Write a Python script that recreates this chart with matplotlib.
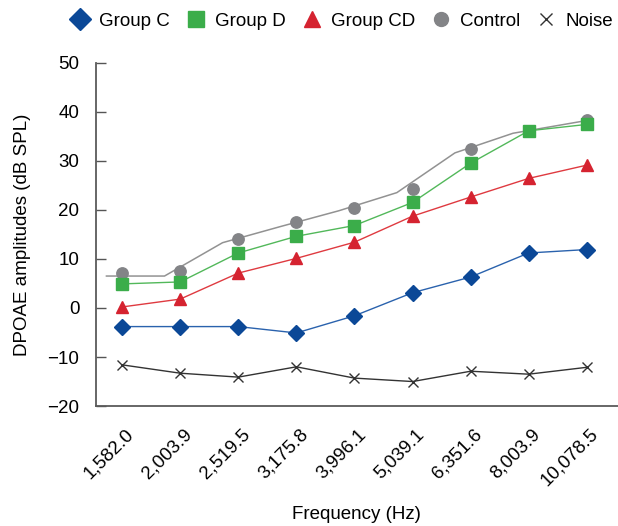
import matplotlib
matplotlib.use("Agg")
import matplotlib.pyplot as plt
import matplotlib.transforms as mtransforms
from matplotlib.lines import Line2D

# -------- DATA --------
freqs = ["1,582.0", "2,003.9", "2,519.5", "3,175.8", "3,996.1",
         "5,039.1", "6,351.6", "8,003.9", "10,078.5"]

group_c = [-3.8, -3.8, -3.8, -5.1, -1.6, 3.1, 6.3, 11.2, 11.9]
group_d = [4.9, 5.3, 11.2, 14.6, 16.8, 21.5, 29.5, 36.1, 37.4]
group_cd = [0.2, 1.8, 7.1, 10.1, 13.4, 18.7, 22.6, 26.4, 29.1]
control = [7.1, 7.6, 14.0, 17.6, 20.4, 24.3, 32.3, 36.1, 38.3]
control_trend = [6.5, 6.5, 13.3, 16.6, 19.8, 23.5, 31.6, 35.6, 38.2]
noise = [-11.6, -13.3, -14.1, -12.0, -14.3, -15.0, -12.9, -13.5, -12.1]
yticks = [-20, -10, 0, 10, 20, 30, 40, 50]
# ----------------------

C_BLUE = "#0b4897"
C_GREEN = "#3bad4a"
C_RED = "#d52330"
C_GREY = "#838487"
C_NOISE = "#333333"

plt.rcParams["font.family"] = ["Liberation Sans", "DejaVu Sans"]
plt.rcParams["font.size"] = 13.5

fig = plt.figure(figsize=(6.18, 5.26), dpi=100)
ax = fig.add_axes([0.1553, 0.228, 0.844, 0.653])

x = list(range(len(freqs)))

# grey trend line sits a bit left of the control markers (as in the source)
shift = -0.27
trend_x = [i + shift for i in x[:-1]] + [x[-1]]
ax.plot(trend_x, control_trend, color="#929292", lw=1.1, zorder=2)
ax.plot(x, control, ls="none", marker="o", ms=8.2, color=C_GREY, mec=C_GREY, zorder=3)

ax.plot(x, group_d, color="#52b85a", lw=1.0, marker="s", ms=8.6,
        mfc=C_GREEN, mec=C_GREEN, zorder=4)
ax.plot(x, group_cd, color="#df3a40", lw=1.0, marker="^", ms=9.0,
        mfc=C_RED, mec=C_RED, zorder=4)
ax.plot(x, group_c, color="#2a62ad", lw=1.0, marker="D", ms=8.4,
        mfc=C_BLUE, mec=C_BLUE, zorder=5)
ax.plot(x, noise, color=C_NOISE, lw=1.0, marker="x", ms=6.5, mew=1.0, zorder=4)

ax.set_xlim(-0.45, 8.53)
ax.set_ylim(-20, 50)
ax.set_yticks(yticks)
ax.set_xticks(x)
ax.set_xticklabels(freqs, rotation=45, ha="right", va="center",
                   rotation_mode="anchor")
ax.tick_params(axis="x", length=0, pad=14)
ax.tick_params(axis="y", direction="in", length=7, width=1.0, color="#555555", pad=12)

# nudge rotated labels right/down a little
offset = mtransforms.ScaledTranslation(0.09, -0.06, fig.dpi_scale_trans)
for lbl in ax.get_xticklabels():
    lbl.set_transform(lbl.get_transform() + offset)

for s in ["top", "right"]:
    ax.spines[s].set_visible(False)
for s in ["left", "bottom"]:
    ax.spines[s].set_color("#5a5a5a")
    ax.spines[s].set_linewidth(1.3)

ax.set_ylabel("DPOAE amplitudes (dB SPL)", labelpad=12)
ax.set_xlabel("Frequency (Hz)", labelpad=12)

handles = [
    Line2D([], [], ls="none", marker="D", ms=11, color=C_BLUE),
    Line2D([], [], ls="none", marker="s", ms=11, color=C_GREEN),
    Line2D([], [], ls="none", marker="^", ms=11, color=C_RED),
    Line2D([], [], ls="none", marker="o", ms=10, color=C_GREY),
    Line2D([], [], ls="none", marker="x", ms=8, mew=1.0, color=C_NOISE),
]
fig.legend(handles, ["Group C", "Group D", "Group CD", "Control", "Noise"],
           loc="center", bbox_to_anchor=(0.553, 0.96), ncol=5, frameon=False,
           handlelength=1.0, handletextpad=0.5, columnspacing=0.9,
           borderaxespad=0)

fig.savefig("out.png", dpi=100)
